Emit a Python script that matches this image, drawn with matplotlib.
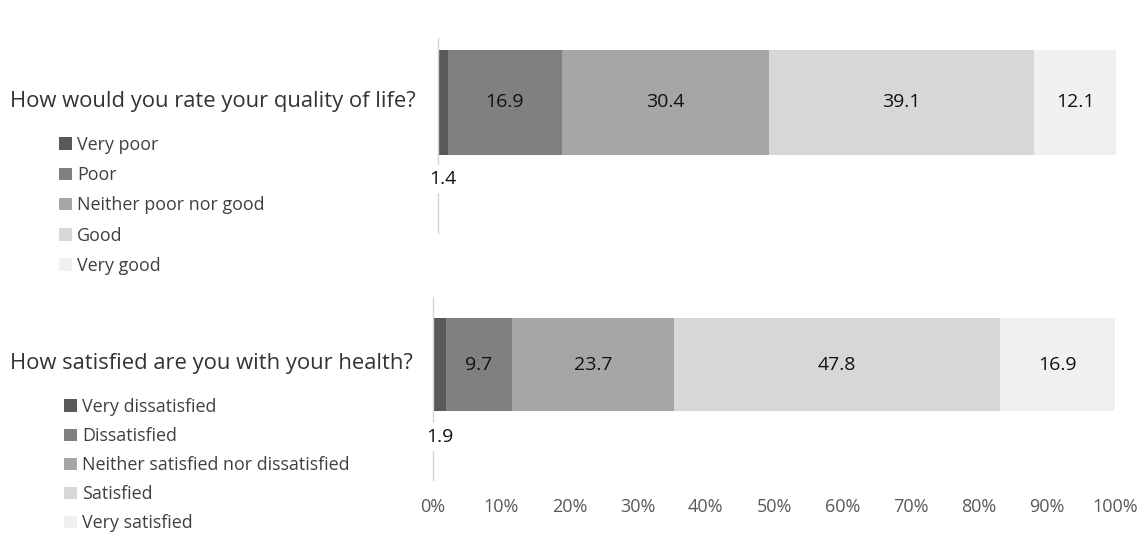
import matplotlib
matplotlib.use("Agg")
import matplotlib.pyplot as plt
from matplotlib.ticker import FixedLocator

plt.rcParams["font.family"] = ["Open Sans", "DejaVu Sans"]

QUESTIONS = [
    "How would you rate your quality of life?",
    "How satisfied are you with your health?",
]

QUALITY_LABELS = ["Very poor", "Poor", "Neither poor nor good", "Good", "Very good"]
QUALITY_VALUES = [1.4, 16.9, 30.4, 39.1, 12.1]

HEALTH_LABELS = ["Very dissatisfied", "Dissatisfied",
                 "Neither satisfied nor dissatisfied", "Satisfied", "Very satisfied"]
HEALTH_VALUES = [1.9, 9.7, 23.7, 47.8, 16.9]

X_TICKS = [0, 10, 20, 30, 40, 50, 60, 70, 80, 90, 100]
X_TICK_LABELS = [f"{t}%" for t in X_TICKS]

COLORS = ["#595959", "#808080", "#a6a6a6", "#d7d7d7", "#f0f0f0"]

W, H = 1142, 534


def px_axes(fig, left, top, right, bottom):
    return fig.add_axes([left / W, 1 - bottom / H, (right - left) / W, (bottom - top) / H])


def draw_bar(ax, values, ylim, small_offset):
    left = 0.0
    bars = []
    for value, color in zip(values, COLORS):
        b = ax.barh(0, value, left=left, height=1.0, color=color, linewidth=0, zorder=2)
        bars.append(b)
        centre = left + value / 2
        if value >= 5:
            ax.text(centre, 0, f"{value:.1f}", ha="center", va="center",
                    fontsize=14, color="#111111", zorder=4)
        else:
            ax.annotate(f"{value:.1f}", xy=(centre, -0.5), xytext=(0, small_offset),
                        textcoords="offset pixels", ha="center", va="center",
                        fontsize=14, color="#111111", zorder=4,
                        bbox=dict(boxstyle="square,pad=0.25", fc="white", ec="none"))
        left += value

    ax.set_xlim(0, 100)
    ax.set_ylim(*ylim)
    for side in ("top", "right", "bottom"):
        ax.spines[side].set_visible(False)
    ax.spines["left"].set_color("#d4d4d4")
    ax.spines["left"].set_linewidth(1.0)
    ax.set_yticks([])
    return bars


fig = plt.figure(figsize=(W / 100, H / 100), dpi=100)

ax_top = px_axes(fig, 438, 38, 1117, 233)
bars_top = draw_bar(ax_top, QUALITY_VALUES, (-1.243, 0.614), -24)
ax_top.set_xticks([])

ax_bot = px_axes(fig, 433, 297, 1115, 480)
bars_bot = draw_bar(ax_bot, HEALTH_VALUES, (-1.242, 0.726), -26)
ax_bot.xaxis.set_major_locator(FixedLocator(X_TICKS))
ax_bot.set_xticklabels(X_TICK_LABELS, fontsize=13, color="#595959")
ax_bot.tick_params(axis="x", length=0, pad=13)

fig.text(10 / W, 1 - 102 / H, QUESTIONS[0], ha="left", va="center",
         fontsize=15.8, color="#333333")
fig.text(10 / W, 1 - 363 / H, QUESTIONS[1], ha="left", va="center",
         fontsize=15.8, color="#333333")

leg_kw = dict(loc="upper left", frameon=False, fontsize=12.9, handlelength=0.7,
              handleheight=0.7, handletextpad=0.3,
              borderpad=0, borderaxespad=0, labelcolor="#404040")
fig.legend([b[0] for b in bars_top], QUALITY_LABELS, labelspacing=0.68,
           bbox_to_anchor=(59 / W, 1 - 136 / H), **leg_kw)
fig.legend([b[0] for b in bars_bot], HEALTH_LABELS, labelspacing=0.62,
           bbox_to_anchor=(64 / W, 1 - 398 / H), **leg_kw)

fig.savefig("out.png", dpi=100, facecolor="white")
